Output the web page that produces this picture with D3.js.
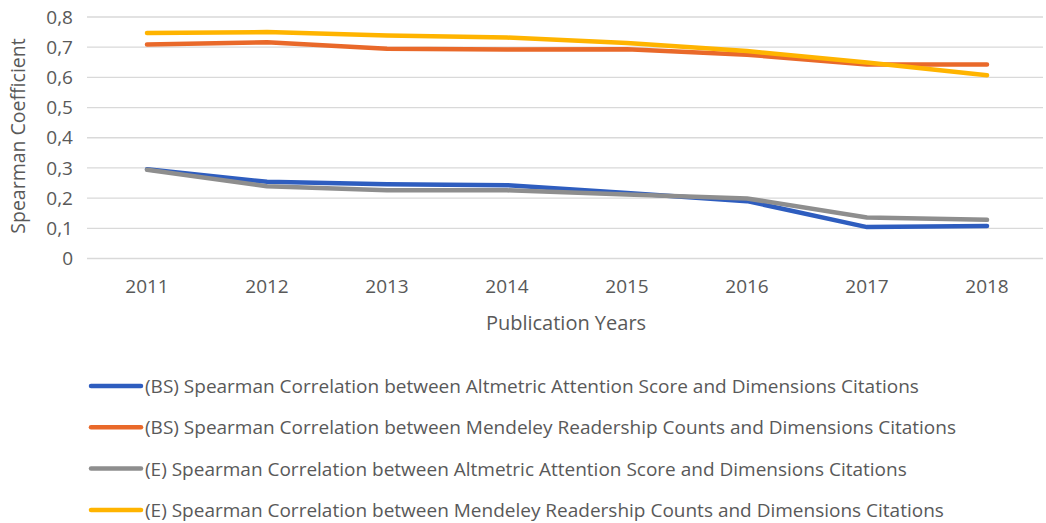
<!DOCTYPE html>
<html><head><meta charset="utf-8">
<script src="https://cdn.jsdelivr.net/npm/d3@7"></script>
<style>body{margin:0;background:#fff}svg{display:block}text{font-family:"Open Sans",sans-serif;fill:#595959}</style>
</head><body><svg id="c" width="1046" height="523"></svg>
<script>
const years = ["2011","2012","2013","2014","2015","2016","2017","2018"];
const bsAltmetric = [0.296,0.254,0.246,0.243,0.217,0.190,0.104,0.108];
const bsMendeley = [0.709,0.716,0.695,0.692,0.693,0.675,0.643,0.643];
const eAltmetric = [0.294,0.239,0.226,0.226,0.212,0.199,0.136,0.128];
const eMendeley = [0.747,0.750,0.739,0.732,0.714,0.687,0.649,0.607];
const yTicks = [0,0.1,0.2,0.3,0.4,0.5,0.6,0.7,0.8];
const seriesNames = [
 "(BS) Spearman Correlation between Altmetric Attention Score and Dimensions Citations",
 "(BS) Spearman Correlation between Mendeley Readership Counts and Dimensions Citations",
 "(E) Spearman Correlation between Altmetric Attention Score and Dimensions Citations",
 "(E) Spearman Correlation between Mendeley Readership Counts and Dimensions Citations"];
const colors = ["#2E5DBF","#E9692A","#8E8E8E","#FFB400"];
const series = [bsAltmetric,bsMendeley,eAltmetric,eMendeley];

const svg = d3.select("#c");
const x = d3.scaleBand().domain(years).range([87,1047]);
const y = d3.scaleLinear().domain([0,0.8]).range([258.5,17]);
const fmt = d => d3.format(".1f")(d).replace(".",",");

svg.append("g").selectAll("line").data(yTicks).join("line")
 .attr("x1",87).attr("x2",1043).attr("y1",d=>y(d)).attr("y2",d=>y(d))
 .attr("stroke","#d9d9d9").attr("stroke-width",1.3);

const yAxis = svg.append("g").attr("transform","translate(87,0)")
 .call(d3.axisLeft(y).tickValues(yTicks).tickFormat(d=>d===0?"0":fmt(d)).tickSize(0).tickPadding(14));
yAxis.select(".domain").remove();
yAxis.selectAll("text").style("font-size","19px").style("font-family","'Open Sans',sans-serif").attr("fill","#595959");

const xAxis = svg.append("g").attr("transform","translate(0,258.5)")
 .call(d3.axisBottom(x).tickSize(0).tickPadding(21));
xAxis.select(".domain").remove();
xAxis.selectAll("text").style("font-size","19px").style("font-family","'Open Sans',sans-serif").attr("fill","#595959");

svg.append("text").attr("transform","translate(25,136) rotate(-90)").attr("text-anchor","middle")
 .style("font-size","19.5px").text("Spearman Coefficient");
svg.append("text").attr("x",566).attr("y",330).attr("text-anchor","middle")
 .style("font-size","20px").text("Publication Years");

const line = d3.line().x((d,i)=>x(years[i])+x.bandwidth()/2).y(d=>y(d));
svg.append("g").selectAll("path").data(series).join("path")
 .attr("d",line).attr("fill","none").attr("stroke",(d,i)=>colors[i])
 .attr("stroke-width",4.5).attr("stroke-linecap","round").attr("stroke-linejoin","round");

const lg = svg.append("g").selectAll("g").data(seriesNames).join("g")
 .attr("transform",(d,i)=>`translate(0,${386+i*41.3})`);
lg.append("line").attr("x1",91).attr("x2",141).attr("y1",0).attr("y2",0)
 .attr("stroke",(d,i)=>colors[i]).attr("stroke-width",4.5).attr("stroke-linecap","round");
lg.append("text").attr("x",145).attr("y",7).style("font-size","19px").text(d=>d);
</script></body></html>
